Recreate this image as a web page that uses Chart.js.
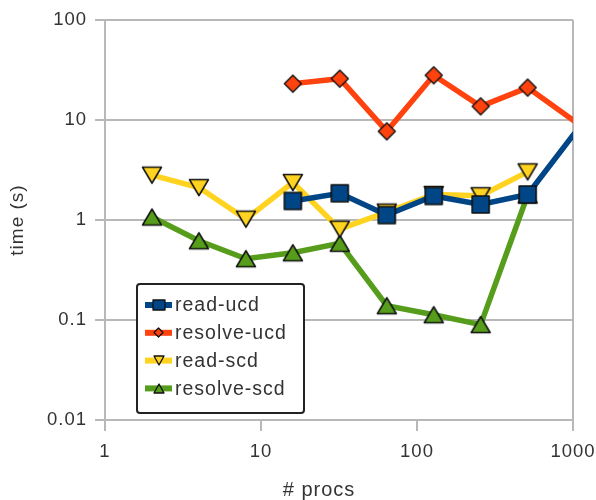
<!DOCTYPE html>
<html>
<head>
<meta charset="utf-8">
<script src="https://cdn.jsdelivr.net/npm/chart.js@4.4.1/dist/chart.umd.min.js"></script>
<style>
  html, body { margin: 0; padding: 0; background: #fff; }
  #wrap { width: 596px; height: 500px; }
</style>
</head>
<body>
<div id="wrap"><canvas id="chart"></canvas></div>
<script>
// values (log-log)
const procs      = [2, 4, 8, 16, 32, 64, 128, 256, 512, 1024];
const readUcd    = [null, null, null, 1.55, 1.85, 1.12, 1.74, 1.43, 1.80, 7.4];
const resolveUcd = [null, null, null, 23.1, 25.9, 7.7, 28.0, 13.7, 21.1, 9.7];
const readScd    = [2.81, 2.11, 1.02, 2.37, 0.81, 1.2, 1.8, 1.75, 3.03, null];
const resolveScd = [1.07, 0.62, 0.41, 0.47, 0.585, 0.139, 0.113, 0.09, 1.78, null];
const xTicks = [1, 10, 100, 1000];
const yTicks = [0.01, 0.1, 1, 10, 100];

const FONT = "'Liberation Sans', Arial, sans-serif";
const TEXT = '#333333';
const GRID = '#b8b8b8';

function makeMarker(shape, w, h, fill, lw) {
    const pad = lw * 3;
    const c = document.createElement('canvas');
    c.width = Math.ceil(w + pad * 2);
    c.height = Math.ceil(h + pad * 2);
    const g = c.getContext('2d');
    const cx = c.width / 2, cy = c.height / 2;
    g.beginPath();
    if (shape === 'square') {
        g.rect(cx - w / 2, cy - h / 2, w, h);
    } else if (shape === 'diamond') {
        g.moveTo(cx, cy - h / 2); g.lineTo(cx + w / 2, cy);
        g.lineTo(cx, cy + h / 2); g.lineTo(cx - w / 2, cy); g.closePath();
    } else if (shape === 'up') {
        g.moveTo(cx, cy - h / 2); g.lineTo(cx + w / 2, cy + h / 2);
        g.lineTo(cx - w / 2, cy + h / 2); g.closePath();
    } else {
        g.moveTo(cx - w / 2, cy - h / 2); g.lineTo(cx + w / 2, cy - h / 2);
        g.lineTo(cx, cy + h / 2); g.closePath();
    }
    g.fillStyle = fill;
    g.fill();
    g.lineWidth = lw;
    g.lineJoin = 'round';
    g.strokeStyle = '#111';
    g.stroke();
    return c;
}

function toPoints(values) {
    const pts = [];
    values.forEach((v, i) => { if (v !== null) pts.push({ x: procs[i], y: v }); });
    return pts;
}

function series(label, values, color, shape, w, h, lw, lw2, h2) {
    return {
        label: label,
        data: toPoints(values),
        borderColor: color,
        backgroundColor: color,
        borderWidth: 5.5,
        tension: 0,
        pointStyle: makeMarker(shape, w, h, color, lw),
        legendMarker: makeMarker(shape, lw2, h2, color, 1.3),
        pointRadius: ctx => (ctx.raw && ctx.raw.x > 1000 ? 0 : 6),
        pointHoverRadius: 6
    };
}

const datasets = [
    series('read-ucd', readUcd, '#004586', 'square', 17, 17, 1.6, 12, 10),
    series('resolve-ucd', resolveUcd, '#ff420e', 'diamond', 17, 17, 1.4, 9, 9),
    series('read-scd', readScd, '#ffd320', 'down', 19, 16, 1.5, 10, 9),
    series('resolve-scd', resolveScd, '#579d1c', 'up', 19, 16, 1.5, 10, 9)
];

const spacing = {
    id: 'spacing',
    beforeLayout(chart) { chart.ctx.letterSpacing = '1px'; },
    beforeDraw(chart) { chart.ctx.letterSpacing = '1px'; }
};

const boxLegend = {
    id: 'boxLegend',
    afterDraw(chart) {
        const ctx = chart.ctx;
        const ca = chart.chartArea;
        ctx.save();
        ctx.letterSpacing = '1px';
        const bx = ca.left + 32, by = ca.bottom - 136, bw = 167, bh = 129;
        ctx.beginPath();
        ctx.roundRect(bx, by, bw, bh, 3);
        ctx.fillStyle = '#fff';
        ctx.fill();
        ctx.lineWidth = 2;
        ctx.strokeStyle = '#222';
        ctx.stroke();
        chart.data.datasets.forEach((ds, i) => {
            const y = by + 21 + i * 27.8;
            ctx.beginPath();
            ctx.moveTo(bx + 8, y);
            ctx.lineTo(bx + 35, y);
            ctx.lineWidth = 6;
            ctx.strokeStyle = ds.borderColor;
            ctx.stroke();
            const m = ds.legendMarker;
            ctx.drawImage(m, Math.round(bx + 21.5 - m.width / 2), Math.round(y - m.height / 2));
            ctx.fillStyle = TEXT;
            ctx.font = '19.5px ' + FONT;
            ctx.textBaseline = 'middle';
            ctx.textAlign = 'left';
            ctx.fillText(ds.label, bx + 38, y + 1);
        });
        // x axis title
        ctx.font = '20px ' + FONT;
        ctx.textAlign = 'center';
        ctx.textBaseline = 'middle';
        ctx.fillStyle = TEXT;
        ctx.fillText('# procs', ca.left + 214, 490);
        ctx.restore();
    }
};

new Chart(document.getElementById('chart'), {
    type: 'line',
    data: { datasets: datasets },
    plugins: [spacing, boxLegend],
    options: {
        responsive: true,
        maintainAspectRatio: false,
        animation: false,
        layout: { padding: { top: 20, right: 23, bottom: 0, left: 0 } },
        plugins: {
            legend: { display: false },
            tooltip: { enabled: false }
        },
        scales: {
            x: {
                type: 'logarithmic',
                min: 1,
                max: 1000,
                afterBuildTicks: scale => { scale.ticks = xTicks.map(v => ({ value: v })); },
                afterFit: scale => {
                    scale.height = 80;
                    scale.paddingLeft = 0;
                    scale.paddingRight = 0;
                },
                ticks: {
                    color: TEXT,
                    font: { family: FONT, size: 18.5 },
                    padding: 10,
                    maxRotation: 0,
                    callback: v => String(v)
                },
                grid: {
                    color: ctx => (ctx.tick && (ctx.tick.value === 1000 || ctx.tick.value === 1) ? GRID : 'rgba(0,0,0,0)'),
                    tickColor: GRID,
                    lineWidth: 2,
                    tickLength: 11
                },
                border: { color: GRID, width: 2 }
            },
            y: {
                type: 'logarithmic',
                min: 0.01,
                max: 100,
                afterBuildTicks: scale => { scale.ticks = yTicks.map(v => ({ value: v })); },
                afterFit: scale => { scale.width = 105; },
                ticks: {
                    color: TEXT,
                    font: { family: FONT, size: 18.5 },
                    padding: 8,
                    callback: v => String(v)
                },
                grid: {
                    color: GRID,
                    tickColor: GRID,
                    lineWidth: 2,
                    tickLength: 10
                },
                border: { color: GRID, width: 2 },
                title: {
                    display: true,
                    text: 'time (s)',
                    color: TEXT,
                    font: { family: FONT, size: 19 },
                    padding: { top: 6, bottom: 0 }
                }
            }
        }
    }
});
</script>
</body>
</html>
